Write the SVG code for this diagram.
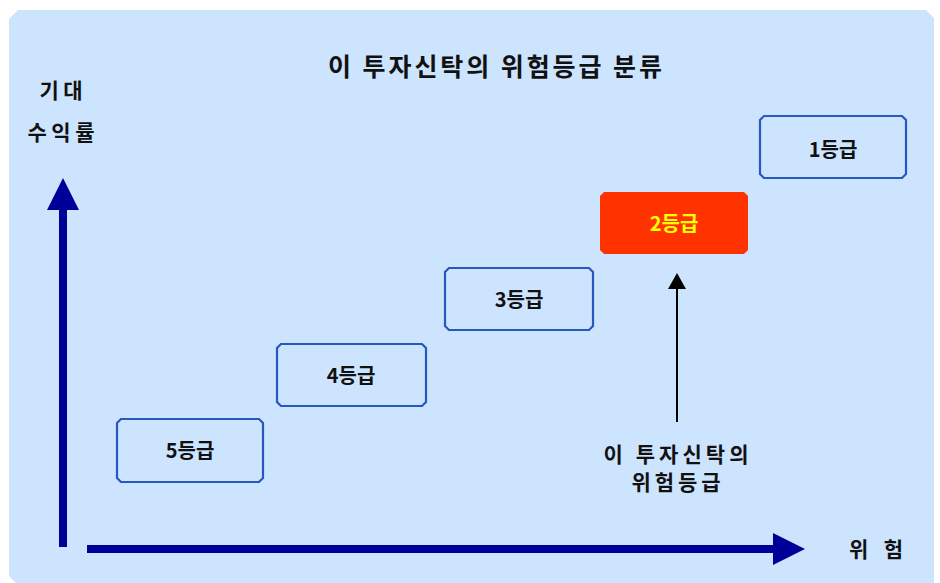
<svg xmlns="http://www.w3.org/2000/svg" width="940" height="583" viewBox="0 0 940 583">
<defs>
<style>
.t{font-family:"Noto Sans CJK KR","Noto Sans",sans-serif;font-weight:bold;fill:#111;}
.box{fill:none;stroke:#2a56c0;stroke-width:2.2;}
.axis{stroke:#000099;stroke-width:8;fill:none;}
</style>
</defs>
<rect width="940" height="583" fill="#ffffff"/>
<path d="M18,10 H926 L934,18 V583 H16 L9,576 V19 Z" fill="#cde4ff"/>
<text class="t" x="495" y="76" font-size="25" text-anchor="middle" textLength="334" lengthAdjust="spacing">이 투자신탁의 위험등급 분류</text>
<text class="t" x="61" y="98" font-size="21" text-anchor="middle" textLength="43" lengthAdjust="spacing">기대</text>
<text class="t" x="61" y="140" font-size="21" text-anchor="middle" textLength="67" lengthAdjust="spacing">수익률</text>
<g id="connectors">
<line class="axis" x1="63" y1="547" x2="63" y2="205"/>
<polygon points="63,178 47,210 79,210" fill="#000099"/>
<line class="axis" x1="87" y1="549" x2="776" y2="549"/>
<polygon points="805,549 773,533 773,565" fill="#000099"/>
<line x1="677" y1="422" x2="677" y2="286" stroke="#000" stroke-width="2"/>
<polygon points="677,273 668,289 686,289" fill="#000"/>
</g>
<g id="g5">
<path class="box" d="M121,419 H259 L263,423 V478 L259,482 H121 L117,478 V423 Z"/>
<text class="t" x="190" y="458" font-size="20" text-anchor="middle">5등급</text>
</g>
<g id="g4">
<path class="box" d="M281,344 H422 L426,348 V402 L422,406 H281 L277,402 V348 Z"/>
<text class="t" x="351" y="383" font-size="20" text-anchor="middle">4등급</text>
</g>
<g id="g3">
<path class="box" d="M449,268 H589 L593,272 V326 L589,330 H449 L445,326 V272 Z"/>
<text class="t" x="519" y="307" font-size="20" text-anchor="middle">3등급</text>
</g>
<g id="g2">
<path d="M604,192 H744 L748,196 V250 L744,254 H604 L600,250 V196 Z" fill="#ff3300"/>
<text class="t" x="674" y="231" font-size="20" text-anchor="middle" style="fill:#ffff00">2등급</text>
</g>
<g id="g1">
<path class="box" d="M764,116 H902 L906,120 V174 L902,178 H764 L760,174 V120 Z"/>
<text class="t" x="833" y="157" font-size="20" text-anchor="middle">1등급</text>
</g>
<g id="label">
<text class="t" x="676" y="462" font-size="21" text-anchor="middle" textLength="145" lengthAdjust="spacing">이 투자신탁의</text>
<text class="t" x="676" y="490" font-size="21" text-anchor="middle" textLength="89" lengthAdjust="spacing">위험등급</text>
</g>
<text class="t" x="876" y="557" font-size="21" text-anchor="middle" textLength="54" lengthAdjust="spacing">위 험</text>
</svg>
